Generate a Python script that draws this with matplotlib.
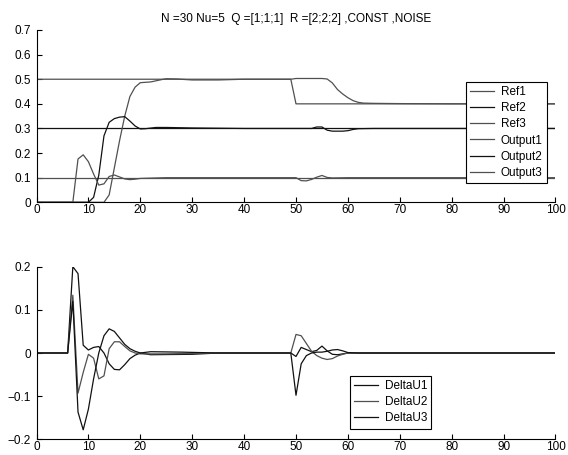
import matplotlib
matplotlib.use("Agg")
import matplotlib.pyplot as plt

plt.rcParams['font.family'] = ['Liberation Sans', 'DejaVu Sans']
plt.rcParams['font.size'] = 8

GREY = '#505050'
BLACK = '#111111'

# ---- top plot: references and outputs ----
ref1_x = [0, 49, 50, 100]
ref1_y = [0.5, 0.5, 0.4, 0.4]
ref2_x = [0, 100]
ref2_y = [0.3, 0.3]
ref3_x = [0, 100]
ref3_y = [0.1, 0.1]

out1_x = [0, 13, 14, 15, 16, 17, 18, 19, 20, 22, 24, 25, 27, 30, 35, 40,
          49, 50, 55, 56, 57, 58, 59, 60, 61, 62, 63, 65, 70, 80, 100]
out1_y = [0, 0, 0.03, 0.14, 0.25, 0.35, 0.43, 0.468, 0.486, 0.489, 0.498,
          0.502, 0.501, 0.497, 0.497, 0.5, 0.5, 0.503, 0.503, 0.501, 0.485,
          0.458, 0.44, 0.425, 0.413, 0.406, 0.403, 0.402, 0.401, 0.4, 0.4]

out2_x = [0, 10, 11, 12, 13, 14, 15, 16, 17, 18, 19, 20, 21, 23, 25, 30,
          40, 53, 54, 55, 56, 57, 59, 60, 61, 62, 65, 100]
out2_y = [0, 0, 0.02, 0.11, 0.27, 0.325, 0.34, 0.346, 0.348, 0.33, 0.31,
          0.298, 0.299, 0.304, 0.304, 0.302, 0.3, 0.3, 0.306, 0.306, 0.293,
          0.289, 0.289, 0.291, 0.296, 0.299, 0.3, 0.3]

out3_x = [0, 7, 8, 9, 10, 11, 12, 13, 14, 15, 16, 17, 18, 19, 20, 25, 50,
          51, 52, 53, 54, 55, 56, 57, 60, 100]
out3_y = [0, 0, 0.176, 0.193, 0.165, 0.115, 0.07, 0.075, 0.105, 0.111,
          0.103, 0.095, 0.092, 0.094, 0.097, 0.1, 0.1, 0.088, 0.087, 0.093,
          0.102, 0.109, 0.101, 0.099, 0.1, 0.1]

# ---- bottom plot: control increments ----
du1_x = [0, 6, 7, 8, 9, 10, 11, 12, 13, 14, 15, 16, 17, 18, 19, 20, 22, 30,
         35, 49, 50, 51, 52, 53, 54, 55, 56, 57, 58, 59, 60, 100]
du1_y = [0, 0, 0.2, 0.184, 0.018, 0.007, 0.013, 0.015, 0.0, -0.025, -0.038,
         -0.039, -0.027, -0.013, -0.005, 0, -0.004, -0.003, 0, 0, -0.008,
         0.013, 0.008, 0.003, 0.006, 0.016, 0.005, -0.003, -0.004, -0.002,
         0, 0]

du2_x = [0, 6, 7, 8, 9, 10, 11, 12, 13, 14, 15, 16, 17, 18, 19, 20, 25, 35,
         49, 50, 51, 52, 53, 54, 55, 56, 57, 58, 59, 60, 62, 100]
du2_y = [0, 0, 0.134, -0.093, -0.045, -0.003, -0.012, -0.06, -0.053, 0.01,
         0.026, 0.026, 0.015, 0.005, 0, -0.002, -0.002, 0, 0, 0.043, 0.04,
         0.022, 0.004, -0.006, -0.012, -0.015, -0.013, -0.007, -0.003, 0, 0,
         0]

du3_x = [0, 6, 7, 8, 9, 10, 11, 12, 13, 14, 15, 16, 17, 18, 19, 20, 22, 28,
         35, 49, 50, 51, 52, 53, 54, 55, 56, 57, 58, 59, 60, 62, 100]
du3_y = [0, 0, 0.12, -0.137, -0.178, -0.13, -0.06, 0.0, 0.04, 0.056, 0.05,
         0.035, 0.02, 0.01, 0.004, 0, 0.003, 0.002, 0, 0, -0.098, -0.025,
         -0.006, 0, 0.002, 0.002, 0.004, 0.007, 0.008, 0.005, 0.001, 0, 0]

title = "N =30 Nu=5  Q =[1;1;1]  R =[2;2;2] ,CONST ,NOISE"
x_ticks = [0, 10, 20, 30, 40, 50, 60, 70, 80, 90, 100]
top_yticks = [0, 0.1, 0.2, 0.3, 0.4, 0.5, 0.6, 0.7]
top_ylabels = ['0', '0.1', '0.2', '0.3', '0.4', '0.5', '0.6', '0.7']
bot_yticks = [-0.2, -0.1, 0, 0.1, 0.2]
bot_ylabels = ['\u22120.2', '\u22120.1', '0', '0.1', '0.2']


def style_axes(ax):
    for side in ('top', 'right'):
        ax.spines[side].set_visible(False)
    for side in ('left', 'bottom'):
        ax.spines[side].set_linewidth(0.8)
        ax.spines[side].set_color('black')
    ax.tick_params(direction='in', length=3.5, width=0.8, labelsize=8.5,
                   pad=4, colors='black')
    ax.tick_params(axis='x', pad=1.5)
    ax.set_xlim(0, 100)
    ax.set_xticks(x_ticks)
    ax.set_xticklabels([str(t) for t in x_ticks])


def add_legend(ax, x0, y0):
    leg = ax.legend(loc='upper left', bbox_to_anchor=(x0 / 568, 1 - y0 / 455),
                    bbox_transform=fig.transFigure, frameon=True,
                    fancybox=False, edgecolor='black', framealpha=1,
                    borderpad=0.35, labelspacing=0.35, handlelength=2.0,
                    handletextpad=0.6, borderaxespad=0, fontsize=8.5)
    leg.get_frame().set_linewidth(0.8)
    return leg


fig = plt.figure(figsize=(5.68, 4.55), dpi=100)
left, width = 36.5 / 568, 519 / 568
ax1 = fig.add_axes([left, 1 - 202.3 / 455, width, 172.3 / 455])
ax2 = fig.add_axes([left, 1 - 439.3 / 455, width, 172.6 / 455])

lw = 0.9
ax1.plot(ref1_x, ref1_y, color=GREY, lw=lw, label='Ref1')
ax1.plot(ref2_x, ref2_y, color=BLACK, lw=lw, label='Ref2')
ax1.plot(ref3_x, ref3_y, color=GREY, lw=lw, label='Ref3')
ax1.plot(out1_x, out1_y, color=GREY, lw=lw, label='Output1')
ax1.plot(out2_x, out2_y, color=BLACK, lw=lw, label='Output2')
ax1.plot(out3_x, out3_y, color=GREY, lw=lw, label='Output3')
ax1.set_ylim(0, 0.7)
ax1.set_yticks(top_yticks)
ax1.set_yticklabels(top_ylabels)
style_axes(ax1)
ax1.set_title(title, fontsize=8.5, pad=6)
add_legend(ax1, 466, 82)

ax2.plot(du1_x, du1_y, color=BLACK, lw=lw, label='DeltaU1')
ax2.plot(du2_x, du2_y, color=GREY, lw=lw, label='DeltaU2')
ax2.plot(du3_x, du3_y, color=BLACK, lw=lw, label='DeltaU3')
ax2.set_ylim(-0.2, 0.2)
ax2.set_yticks(bot_yticks)
ax2.set_yticklabels(bot_ylabels)
style_axes(ax2)
add_legend(ax2, 350, 376)

fig.savefig('out.png', dpi=100)
